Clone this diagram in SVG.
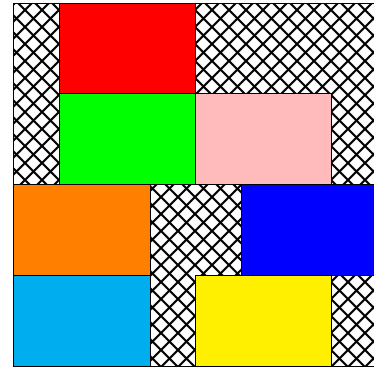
<svg xmlns="http://www.w3.org/2000/svg" width="374" height="367" viewBox="0 0 374 367">
<defs>
<pattern id="hatch" patternUnits="userSpaceOnUse" x="8" y="10" width="17" height="17">
<rect width="17" height="17" fill="#ffffff"/>
<path d="M-1,-1 L18,18 M18,-1 L-1,18" stroke="#000" stroke-width="2.2" fill="none"/>
</pattern>
</defs>
<style>
.cell{stroke:#000;stroke-width:1}
</style>
<rect width="374" height="367" fill="#ffffff"/>
<g id="frame">
<rect x="13.5" y="3.5" width="364" height="363" fill="url(#hatch)" stroke="#000" stroke-width="1"/>
</g>
<g id="red"><rect class="cell" x="59.5" y="3.5" width="136" height="90" fill="#ff0000"/></g>
<g id="green"><rect class="cell" x="59.5" y="93.5" width="136" height="91" fill="#00ff00"/></g>
<g id="pink"><rect class="cell" x="195.5" y="93.5" width="136" height="91" fill="#ffbbbb"/></g>
<g id="orange"><rect class="cell" x="13.5" y="184.5" width="137" height="91" fill="#ff8000"/></g>
<g id="blue"><rect class="cell" x="241.5" y="184.5" width="136" height="91" fill="#0000ff"/></g>
<g id="lightblue"><rect class="cell" x="13.5" y="275.5" width="137" height="91" fill="#00adef"/></g>
<g id="yellow"><rect class="cell" x="195.5" y="275.5" width="136" height="91" fill="#fff000"/></g>
</svg>
